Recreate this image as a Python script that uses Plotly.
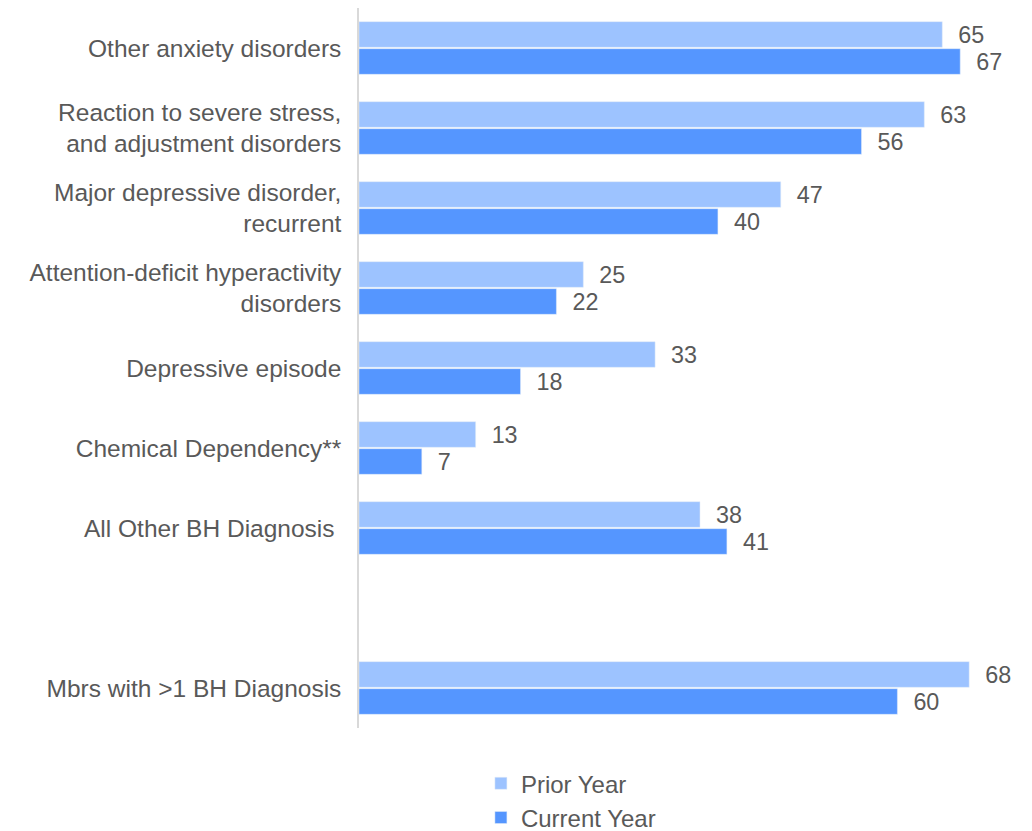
import plotly.graph_objects as go

categories = [
    "Other anxiety disorders",
    "Reaction to severe stress,<br>and adjustment disorders",
    "Major depressive disorder,<br>recurrent",
    "Attention-deficit hyperactivity<br>disorders",
    "Depressive episode",
    "Chemical Dependency**",
    "All Other BH Diagnosis\u00a0",
    " ",
    "Mbrs with >1 BH Diagnosis",
]
bar_categories = [c for c in categories if c != " "]
prior_year = [65, 63, 47, 25, 33, 13, 38, 68]
current_year = [67, 56, 40, 22, 18, 7, 41, 60]

TXT = "#595959"
FONT = "Liberation Sans"

fig = go.Figure()
fig.add_trace(go.Bar(
    name="Prior Year", y=bar_categories, x=prior_year, orientation="h",
    marker=dict(color="#9DC3FF"),
    text=prior_year, texttemplate="\u00a0\u00a0%{x}", textposition="outside",
    textfont=dict(color=TXT, size=25.5, family=FONT), cliponaxis=False,
))
fig.add_trace(go.Bar(
    name="Current Year", y=bar_categories, x=current_year, orientation="h",
    marker=dict(color="#5596FF"),
    text=current_year, texttemplate="\u00a0\u00a0%{x}", textposition="outside",
    textfont=dict(color=TXT, size=25.5, family=FONT), cliponaxis=False,
))

fig.update_layout(
    width=1032, height=831,
    margin=dict(l=359, r=0, t=8, b=103, autoexpand=False),
    plot_bgcolor="white", paper_bgcolor="white",
    barmode="group", bargap=0.325, bargroupgap=0.05,
    font=dict(family=FONT, color=TXT, size=24.5),
    showlegend=True,
    uniformtext=dict(mode=False),
    legend=dict(
        orientation="v", xref="container", yref="container",
        x=0.466, y=0.084, xanchor="left", yanchor="top",
        font=dict(size=24, color=TXT, family=FONT),
        itemwidth=30, tracegroupgap=0,
    ),
    xaxis=dict(range=[0, 75], visible=False, showgrid=False, zeroline=False),
    yaxis=dict(
        categoryorder="array", categoryarray=categories, type="category",
        autorange="reversed", showline=True, linecolor="#D9D9D9", linewidth=1.5,
        showgrid=False, ticks="", ticklabelstandoff=11, automargin=False,
        tickfont=dict(size=24.5, color=TXT, family=FONT),
    ),
)

fig.write_html("out.html")
